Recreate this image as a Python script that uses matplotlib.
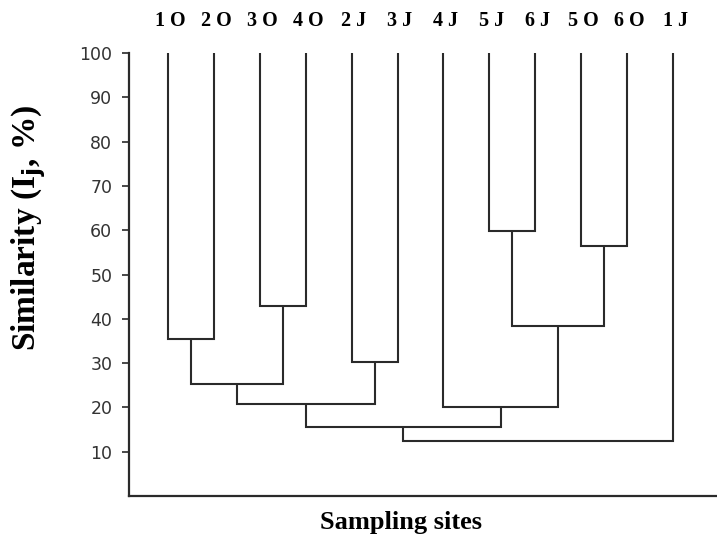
import matplotlib
matplotlib.use("Agg")
import matplotlib.pyplot as plt

# Data
leaves = ["1 O", "2 O", "3 O", "4 O", "2 J", "3 J", "4 J", "5 J", "6 J", "5 O", "6 O", "1 J"]
# merges: left child, right child (leaf index or earlier merge "mK"), similarity height (%)
merge_left = [0, 2, "m0", 4, "m2", 7, 9, "m5", 6, "m4", "m9"]
merge_right = [1, 3, "m1", 5, "m3", 8, 10, "m6", "m7", "m8", 11]
merge_heights = [35.5, 43.0, 25.2, 30.2, 20.7, 59.8, 56.4, 38.3, 20.0, 15.5, 12.5]
yticks = [10, 20, 30, 40, 50, 60, 70, 80, 90, 100]

fig = plt.figure(figsize=(7.17, 5.35), dpi=100)
ax = fig.add_axes([129/717, 39/535, 1 - 129/717, (496-53)/535])
lc = "#2a2a2a"
lw = 1.5

pos = {}
hgt = {}
def get(c):
    if isinstance(c, str):
        return pos[c], hgt[c]
    return float(c), 100.0

for k, (a, b, h) in enumerate(zip(merge_left, merge_right, merge_heights)):
    xa, ha = get(a)
    xb, hb = get(b)
    ax.plot([xa, xa, xb, xb], [ha, h, h, hb], color=lc, lw=lw, solid_capstyle="butt", solid_joinstyle="miter")
    pos["m%d" % k] = (xa + xb) / 2
    hgt["m%d" % k] = h

ax.set_xlim((129-168)/45.9, (717-168)/45.9)
ax.set_ylim(0, 100)
ax.set_yticks(yticks)
ax.set_xticks([])
ax.spines["top"].set_visible(False)
ax.spines["right"].set_visible(False)
for s in ["left", "bottom"]:
    ax.spines[s].set_color(lc)
    ax.spines[s].set_linewidth(1.6)
ax.tick_params(axis="y", direction="out", length=5, width=1.2, color=lc,
               labelsize=12.5, labelcolor="#333333", pad=7)

for i, name in enumerate(leaves):
    ax.text(i + 0.05, 107.2, name, ha="center", va="center", fontsize=14.5,
            fontweight="bold", family="Liberation Serif", clip_on=False)

fig.text(29/717, 1 - 228/535, "Similarity (I$_\\mathbf{j}$, %)", rotation=90, ha="center", va="center",
         fontsize=24, fontweight="bold", family="Liberation Serif")
fig.text(401/717, 1 - 522/535, "Sampling sites", ha="center", va="center",
         fontsize=19, fontweight="bold", family="Liberation Serif")

fig.savefig("out.png", dpi=100)
